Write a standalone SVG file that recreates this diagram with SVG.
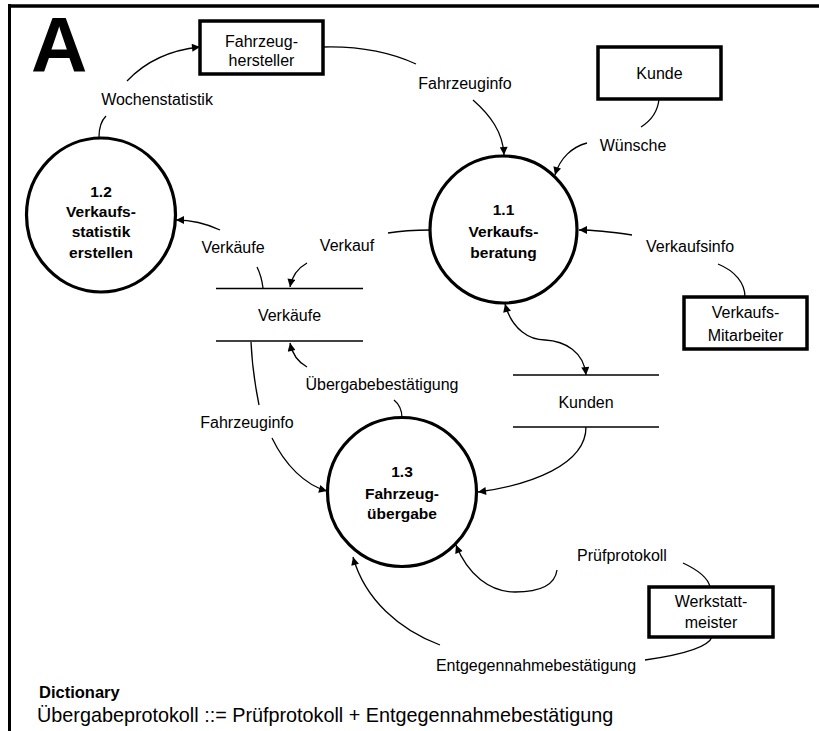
<svg xmlns="http://www.w3.org/2000/svg" width="819" height="731" viewBox="0 0 819 731">
<style>
text{font-family:"Liberation Sans",Arial,sans-serif;fill:#000}
.lbl{font-size:16px;text-anchor:middle}
.p{font-size:15.5px;font-weight:bold;text-anchor:middle}
.proc{fill:#fff;stroke:#000;stroke-width:3.2}
.ext{fill:#fff;stroke:#000;stroke-width:3.5}
.store{stroke:#000;stroke-width:1.5}
.flow path{fill:none;stroke:#000;stroke-width:1.3}
.frame{stroke:#000;fill:none}
</style>
<defs>
<marker id="ah" viewBox="0 0 10 10" refX="10" refY="5" markerWidth="9" markerHeight="8" markerUnits="userSpaceOnUse" orient="auto-start-reverse">
<path d="M0,0 L10,5 L0,10 z" fill="#000"/>
</marker>
</defs>
<rect width="819" height="731" fill="#fff"/>
<g id="frame">
<line class="frame" x1="8" y1="6" x2="819" y2="6" stroke-width="3.5"/>
<line class="frame" x1="9.5" y1="4" x2="9.5" y2="731" stroke-width="3"/>
<text x="31" y="72" font-size="78" font-weight="bold">A</text>
</g>
<g id="connectors" class="flow">
<path d="M99,137 C99,128 101,121 106,116"/>
<path d="M127,81 C145,62 170,50 200,47" marker-end="url(#ah)"/>
<path d="M323,47 C360,46 392,53 416,64"/>
<path d="M473,100 C490,115 503,132 504,155" marker-end="url(#ah)"/>
<path d="M659,99 C658,110 652,120 641,127"/>
<path d="M587,143 C572,147 560,158 555,175" marker-end="url(#ah)"/>
<path d="M745,297 C745,283 735,271 718,264"/>
<path d="M632,235 C612,232 595,230 579,230" marker-end="url(#ah)"/>
<path d="M430,230 C415,230 400,231 388,233"/>
<path d="M307,263 C298,268 292,276 290,287" marker-end="url(#ah)"/>
<path d="M263,288 C262,280 260,273 257,267"/>
<path d="M220,230 C205,223 190,220 176,220" marker-end="url(#ah)"/>
<path d="M402,418 C402,410 399,404 394,400"/>
<path d="M307,367 C298,362 292,353 290,343" marker-end="url(#ah)"/>
<path d="M251,342 C252,365 255,385 259,405"/>
<path d="M272,438 C285,465 305,485 327,491" marker-end="url(#ah)"/>
<path d="M586,427 C586,465 530,485 478,492" marker-end="url(#ah)"/>
<path d="M505,304 C512,330 530,340 545,340 C565,341 584,352 586,375" marker-start="url(#ah)" marker-end="url(#ah)"/>
<path d="M683,563 C698,570 708,577 710,587"/>
<path d="M557,570 C555,585 540,592 515,592 C490,592 468,575 456,545" marker-end="url(#ah)"/>
<path d="M712,637 C708,648 680,655 645,660"/>
<path d="M440,645 C400,630 365,600 353,557" marker-end="url(#ah)"/>
</g>
<g id="labels">
<text class="lbl" x="157" y="105">Wochenstatistik</text>
<text class="lbl" x="465" y="89">Fahrzeuginfo</text>
<text class="lbl" x="633" y="151">Wünsche</text>
<text class="lbl" x="690" y="252">Verkaufsinfo</text>
<text class="lbl" x="347" y="251">Verkauf</text>
<text class="lbl" x="233" y="253">Verkäufe</text>
<text class="lbl" x="382" y="390">Übergabebestätigung</text>
<text class="lbl" x="247" y="428">Fahrzeuginfo</text>
<text class="lbl" x="622" y="561">Prüfprotokoll</text>
<text class="lbl" x="536" y="671">Entgegennahmebestätigung</text>
</g>
<g id="p11">
<circle class="proc" cx="503.5" cy="229.5" r="73.5"/>
<text class="p" x="503.5" y="215">1.1</text>
<text class="p" x="503.5" y="237">Verkaufs-</text>
<text class="p" x="503.5" y="258">beratung</text>
</g>
<g id="p12">
<ellipse class="proc" cx="101" cy="215" rx="74.5" ry="77"/>
<text class="p" x="101" y="197">1.2</text>
<text class="p" x="101" y="217">Verkaufs-</text>
<text class="p" x="101" y="237">statistik</text>
<text class="p" x="101" y="258">erstellen</text>
</g>
<g id="p13">
<circle class="proc" cx="402" cy="492" r="74.5"/>
<text class="p" x="402" y="477">1.3</text>
<text class="p" x="402" y="499">Fahrzeug-</text>
<text class="p" x="402" y="519">übergabe</text>
</g>
<g id="e-hersteller">
<rect class="ext" x="200" y="21" width="123" height="53"/>
<text class="lbl" x="261.5" y="47">Fahrzeug-</text>
<text class="lbl" x="261.5" y="66">hersteller</text>
</g>
<g id="e-kunde">
<rect class="ext" x="598" y="47" width="123" height="52"/>
<text class="lbl" x="659.5" y="79">Kunde</text>
</g>
<g id="e-mitarbeiter">
<rect class="ext" x="684" y="297" width="123" height="52"/>
<text class="lbl" x="745.5" y="318">Verkaufs-</text>
<text class="lbl" x="745.5" y="341">Mitarbeiter</text>
</g>
<g id="e-werkstatt">
<rect class="ext" x="649" y="587" width="124" height="50"/>
<text class="lbl" x="711" y="607">Werkstatt-</text>
<text class="lbl" x="711" y="628">meister</text>
</g>
<g id="s-verkaeufe">
<line class="store" x1="216" y1="288.5" x2="363" y2="288.5"/>
<line class="store" x1="216" y1="341" x2="363" y2="341"/>
<text class="lbl" x="289.5" y="321">Verkäufe</text>
</g>
<g id="s-kunden">
<line class="store" x1="513" y1="375" x2="659" y2="375"/>
<line class="store" x1="513" y1="427" x2="659" y2="427"/>
<text class="lbl" x="586" y="408">Kunden</text>
</g>
<g id="dictionary">
<text x="39" y="698" font-size="16.5" font-weight="bold">Dictionary</text>
<text x="37" y="722" font-size="19.8">Übergabeprotokoll ::= Prüfprotokoll + Entgegennahmebestätigung</text>
</g>
</svg>
